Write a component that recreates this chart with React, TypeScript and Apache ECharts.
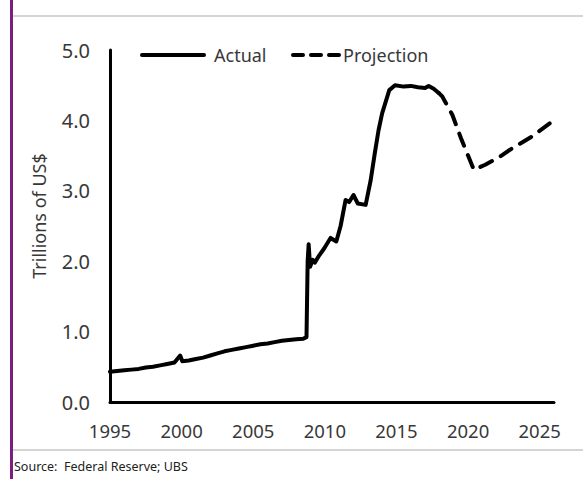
import React, { useEffect, useRef } from "react";
import * as echarts from "echarts";

const actualYears = [
  1995.0, 1995.5, 1996.0, 1996.5, 1997.0, 1997.5, 1998.0, 1998.5, 1999.0, 1999.5,
  1999.9, 2000.05, 2000.5, 2001.0, 2001.5, 2002.0, 2002.5, 2003.0, 2003.5, 2004.0,
  2004.5, 2005.0, 2005.5, 2006.0, 2006.5, 2007.0, 2007.5, 2008.0, 2008.5, 2008.72,
  2008.8, 2008.87, 2008.97, 2009.15, 2009.3, 2009.6, 2009.95, 2010.4, 2010.8, 2011.1,
  2011.45, 2011.7, 2012.0, 2012.3, 2012.85, 2013.2, 2013.5, 2013.75, 2014.0, 2014.5,
  2014.9, 2015.5, 2016.0, 2016.5, 2017.0, 2017.25, 2017.6, 2017.95,
];
const actualValues = [
  0.43, 0.44, 0.45, 0.46, 0.47, 0.49, 0.5, 0.52, 0.54, 0.56,
  0.66, 0.58, 0.59, 0.61, 0.63, 0.66, 0.69, 0.72, 0.74, 0.76,
  0.78, 0.8, 0.82, 0.83, 0.85, 0.87, 0.88, 0.89, 0.9, 0.92,
  2.0, 2.24, 1.92, 2.02, 1.98, 2.08, 2.18, 2.33, 2.28, 2.5,
  2.87, 2.84, 2.94, 2.82, 2.8, 3.15, 3.55, 3.86, 4.1, 4.43,
  4.5, 4.48, 4.49, 4.47, 4.46, 4.49, 4.45, 4.39,
];

const projectionYears = [2017.95, 2018.2, 2018.9, 2019.5, 2020.0, 2020.4, 2021.2, 2022.2, 2023.05, 2024.45, 2025.85];
const projectionValues = [4.39, 4.34, 4.08, 3.75, 3.5, 3.3, 3.37, 3.48, 3.6, 3.77, 3.98];

const xTickLabels = [1995, 2000, 2005, 2010, 2015, 2020, 2025];
const yAxisTitle = "Trillions of US$";
const legendNames = ["Actual", "Projection"];
const sourceText = "Source:  Federal Reserve; UBS";

const FONT = "'Noto Sans', 'Open Sans', sans-serif";
const TEXT = "#383838";

export default function App() {
  const ref = useRef<HTMLDivElement>(null);

  useEffect(() => {
    document.body.style.margin = "0";
    if (!ref.current) return;
    const chart = echarts.init(ref.current, null, { renderer: "svg" });

    const actual = actualYears.map((x, i) => [x, actualValues[i]]);
    const projection = projectionYears.map((x, i) => [x, projectionValues[i]]);

    chart.setOption({
      animation: false,
      backgroundColor: "#ffffff",
      textStyle: { fontFamily: FONT },
      grid: { left: 110, right: 33, top: 50, bottom: 77, containLabel: false },
      xAxis: {
        type: "value",
        min: 1995,
        max: 2026,
        interval: 5,
        axisLine: { show: true, lineStyle: { color: "#000", width: 3 } },
        axisTick: { show: false },
        splitLine: { show: false },
        axisLabel: {
          customValues: xTickLabels,
          formatter: (v: number) => String(v),
          fontSize: 18.5,
          color: TEXT,
          margin: 19,
          fontFamily: FONT,
        },
      },
      yAxis: {
        type: "value",
        min: 0,
        max: 5,
        interval: 1,
        name: yAxisTitle,
        nameLocation: "middle",
        nameRotate: 90,
        nameGap: 62,
        nameTextStyle: { fontSize: 18, color: TEXT, fontFamily: FONT, padding: [0, 0, 0, 20] },
        axisLine: { show: true, lineStyle: { color: "#000", width: 3 } },
        axisTick: { show: false },
        splitLine: { show: false },
        axisLabel: {
          formatter: (v: number) => v.toFixed(1),
          fontSize: 20,
          color: TEXT,
          margin: 20,
          fontFamily: FONT,
        },
      },
      series: [
        {
          name: legendNames[0],
          type: "line",
          data: actual,
          showSymbol: false,
          lineStyle: { color: "#000", width: 4, join: "round", cap: "round" },
        },
        {
          name: legendNames[1],
          type: "line",
          data: projection,
          showSymbol: false,
          lineStyle: { color: "#000", width: 4, type: [13, 10], cap: "round", join: "round" },
        },
      ],
      graphic: [
        { type: "rect", shape: { x: 10, y: 0, width: 3, height: 479 }, style: { fill: "#7a1f7e" } },
        { type: "line", shape: { x1: 13, y1: 16, x2: 583, y2: 16 }, style: { stroke: "#d4d4d4", lineWidth: 2 } },
        { type: "line", shape: { x1: 13, y1: 450, x2: 583, y2: 450 }, style: { stroke: "#d4d4d4", lineWidth: 2 } },
        { type: "line", shape: { x1: 142, y1: 55, x2: 204, y2: 55 }, style: { stroke: "#000", lineWidth: 4, lineCap: "round" } },
        {
          type: "text",
          x: 214,
          y: 55,
          style: { text: legendNames[0], fontSize: 18, fill: TEXT, fontFamily: FONT, verticalAlign: "middle" },
        },
        {
          type: "line",
          shape: { x1: 293, y1: 55, x2: 340, y2: 55 },
          style: { stroke: "#000", lineWidth: 4, lineCap: "round", lineDash: [10, 8] },
        },
        {
          type: "text",
          x: 343,
          y: 55,
          style: { text: legendNames[1], fontSize: 18, fill: TEXT, fontFamily: FONT, verticalAlign: "middle" },
        },
        {
          type: "text",
          x: 14,
          y: 466,
          style: { text: sourceText, fontSize: 12.5, fill: "#222", fontFamily: FONT, verticalAlign: "middle" },
        },
      ],
    });

    return () => chart.dispose();
  }, []);

  return <div ref={ref} style={{ position: "absolute", left: 0, top: 0, width: 587, height: 479 }} />;
}
